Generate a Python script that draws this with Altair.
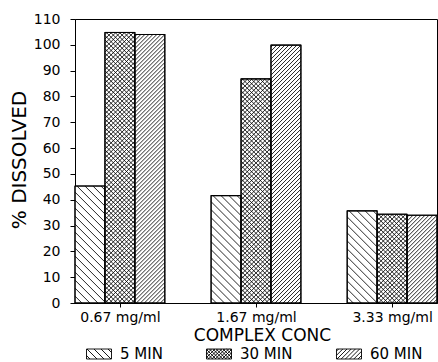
import altair as alt
import pandas as pd

# ---- data ----
conc_labels = ["0.67 mg/ml", "1.67 mg/ml", "3.33 mg/ml"]
times = ["5 MIN", "30 MIN", "60 MIN"]
v5 = [45.3, 41.6, 35.7]
v30 = [104.8, 86.8, 34.4]
v60 = [104.0, 99.9, 34.0]
y_ticks = list(range(0, 111, 10))

# ---- layout / style ----
W, H = 362, 284
XDOM = [-0.33, 2.33]
YDOM = [0, 110]
BW = 0.22
PXX = W / (XDOM[1] - XDOM[0])
PXY = H / (YDOM[1] - YDOM[0])
FONT = "DejaVu Sans"
HATCH = {
    "5 MIN": [("back", 8.0)],
    "30 MIN": [("back", 4.4), ("fwd", 4.4)],
    "60 MIN": [("fwd", 4.0)],
}
LEG_HATCH = {
    "5 MIN": [("back", 7.0)],
    "30 MIN": [("back", 3.4), ("fwd", 3.4)],
    "60 MIN": [("fwd", 4.2)],
}


def segs(w, h, kind, step):
    """hatch segments inside a w x h box, screen coords (y down)."""
    out = []
    if kind == "back":  # y - x = c
        c = -w + step / 2
        while c < h:
            xa, xb = max(0.0, -c), min(w, h - c)
            if xb - xa > 0.3:
                out.append((xa, xa + c, xb, xb + c))
            c += step
    else:  # y + x = c
        c = step / 2
        while c < w + h:
            xa, xb = max(0.0, c - h), min(w, c)
            if xb - xa > 0.3:
                out.append((xa, c - xa, xb, c - xb))
            c += step
    return out


series = {"5 MIN": v5, "30 MIN": v30, "60 MIN": v60}
bar_rows, hatch_rows = [], []
for i, conc in enumerate(conc_labels):
    for j, t in enumerate(times):
        v = series[t][i]
        x0 = i + XDOM[0] + j * BW
        x1 = x0 + BW
        bar_rows.append(dict(conc=conc, time=t, x0=x0, x1=x1, xm=(x0 + x1) / 2, v=v))
        w, h = BW * PXX, v * PXY
        for kind, step in HATCH[t]:
            for xa, ya, xb, yb in segs(w, h, kind, step):
                hatch_rows.append(dict(
                    time=t,
                    x0=x0 + xa / PXX, v=v - ya / PXY,
                    hx2=x0 + xb / PXX, hy2=v - yb / PXY,
                ))
bars = pd.DataFrame(bar_rows)
hatch = pd.DataFrame(hatch_rows)

# legend swatch paths (unit coords, 1 unit = 12.5 px)
SW, SH = 25.0, 10.0
def swatch_path(t):
    def p(x, y):
        return f"{x / 12.5 - 1:.3f},{y / 12.5 - SH / 25.0:.3f}"
    d = f"M{p(0,0)}L{p(SW,0)}L{p(SW,SH)}L{p(0,SH)}Z"
    for kind, step in LEG_HATCH[t]:
        for xa, ya, xb, yb in segs(SW, SH, kind, step):
            d += f"M{p(xa,ya)}L{p(xb,yb)}"
    return d
shape_range = [swatch_path(t) for t in times]

label_expr = "[" + ",".join(f"'{c}'" for c in conc_labels) + "][datum.value]"

xs = alt.Scale(domain=XDOM, nice=False, zero=False)
ys = alt.Scale(domain=YDOM, nice=False)

x_axis = alt.Axis(
    values=[0, 1, 2], labelExpr=label_expr, tickSize=4, labelPadding=3,
    labelFontSize=14, title="COMPLEX CONC", titleFontSize=17,
    titleFontWeight="normal", titleX=187, titleY=32, titleBaseline="middle",
    grid=False, labelOverlap=False,
)
y_axis = alt.Axis(
    values=y_ticks, tickSize=5, labelPadding=10, labelFontSize=14,
    title="% DISSOLVED", titleFontSize=20, titleFontWeight="normal",
    titleAngle=270, titleX=-56, titleY=140.5, titleBaseline="middle",
    titleAlign="center", grid=False, labelOverlap=False,
)

X = alt.X("x0:Q", scale=xs, axis=x_axis)
Y = alt.Y("v:Q", scale=ys, axis=y_axis)

base = alt.Chart(bars)
rect_fill = base.mark_rect(fill="white", stroke="black", strokeWidth=1).encode(
    x=X, x2="x1:Q", y=Y, y2=alt.datum(0),
)
rules = alt.Chart(hatch).mark_rule(color="black", strokeWidth=0.85).encode(
    x=X, x2="hx2:Q", y=Y, y2="hy2:Q",
)
rect_line = base.mark_rect(fill=None, fillOpacity=0, stroke="black", strokeWidth=1.1).encode(
    x=X, x2="x1:Q", y=Y, y2=alt.datum(0),
)
legend_pts = base.mark_point(opacity=0, filled=False, color="black").encode(
    x=X, y=Y,
    shape=alt.Shape(
        "time:N",
        scale=alt.Scale(domain=times, range=shape_range),
        legend=alt.Legend(
            orient="none", legendX=11, legendY=322, direction="horizontal",
            columns=3, title=None, symbolSize=625, symbolStrokeColor="black",
            symbolFillColor="white", symbolStrokeWidth=0.9, symbolOpacity=1,
            labelFont=FONT, labelFontSize=15, labelColor="black",
            labelOffset=8, columnPadding=41,
        ),
    ),
)

chart = (
    alt.layer(rect_fill, rules, rect_line, legend_pts)
    .properties(
        width=W, height=H,
        autosize=alt.AutoSizeParams(type="none"),
        padding={"left": 75, "top": 19, "right": 1, "bottom": 59},
    )
    .configure(font=FONT, background="white")
    .configure_view(stroke="black", strokeWidth=1)
    .configure_axis(
        domainColor="black", tickColor="black", labelColor="black",
        titleColor="black", labelFont=FONT, titleFont=FONT,
    )
)

chart.save("out.html", embed_options={"renderer": "svg", "actions": False})
